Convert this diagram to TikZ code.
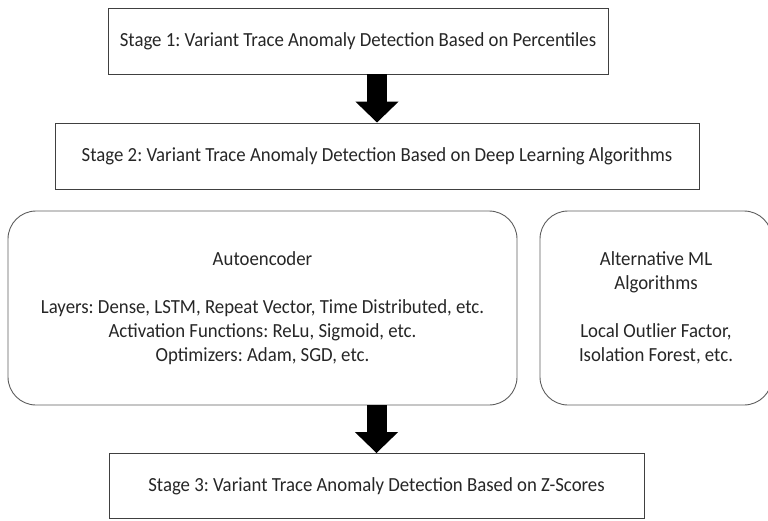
\documentclass[tikz,border=0pt]{standalone}
\usepackage{fontspec}
\setmainfont[FakeStretch=0.94]{Carlito}
\usetikzlibrary{arrows.meta}
\definecolor{boxline}{HTML}{404040}
\definecolor{txt}{HTML}{262626}
\tikzset{
  stagebox/.style={draw=boxline, line width=0.9pt, inner sep=0pt, align=center, text=txt, font=\fontsize{20}{24}\selectfont},
  roundbox/.style={stagebox, draw=boxline!85, rounded corners=28pt},
  bigarrow/.style={line width=20pt, draw=black, -{Triangle[width=42pt,length=21pt]}}
}
\frenchspacing
\begin{document}
\begin{tikzpicture}[x=1pt,y=-1pt]
\useasboundingbox (0,0) rectangle (768,520);
\clip (0,0) rectangle (768,520);
\node[stagebox, minimum width=500pt, minimum height=66pt] (s1) at (358,41) {Stage 1: Variant Trace Anomaly Detection Based on Percentiles};
\node[stagebox, minimum width=644pt, minimum height=66pt] (s2) at (377,156) {Stage 2: Variant Trace Anomaly Detection Based on Deep Learning Algorithms};
\node[roundbox, minimum width=509pt, minimum height=194pt] (ae) at (262.5,308) {Autoencoder\\[24pt]Layers: Dense, LSTM, Repeat Vector, Time Distributed, etc.\\Activation Functions: ReLu, Sigmoid, etc.\\Optimizers: Adam, SGD, etc.};
\node[roundbox, minimum width=232pt, minimum height=194pt] (alt) at (656,308) {Alternative ML\\Algorithms\\[24pt]Local Outlier Factor,\\Isolation Forest, etc.};
\node[stagebox, minimum width=535pt, minimum height=65pt] (s3) at (376.5,486) {Stage 3: Variant Trace Anomaly Detection Based on Z-Scores};
\draw[bigarrow] (s1.south -| s2.north) -- (s2.north);
\draw[bigarrow] (ae.south -| s3.north) -- (s3.north);
\end{tikzpicture}
\end{document}
